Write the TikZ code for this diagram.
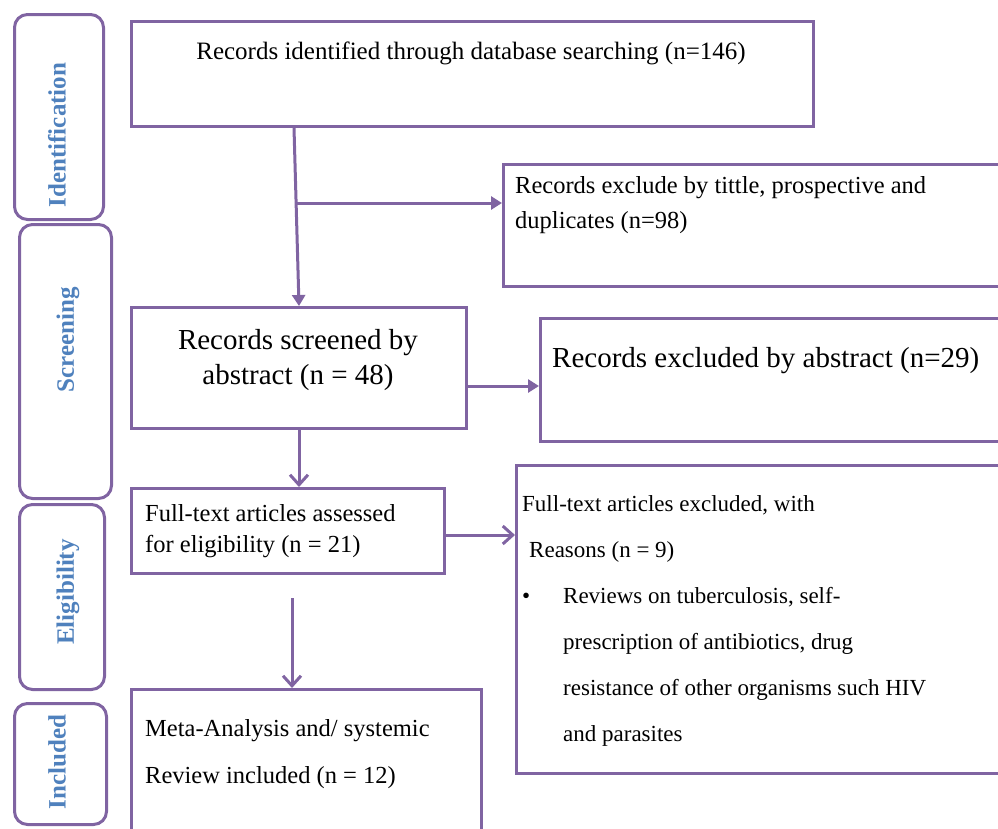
\documentclass[tikz,border=0pt]{standalone}
\usepackage{fontspec}
\setmainfont{Liberation Serif}
\usetikzlibrary{arrows.meta}
\tikzset{>={Triangle[length=11pt,width=13pt]}}
\definecolor{prisma}{HTML}{8064A2}
\definecolor{stageblue}{HTML}{4F81BD}
\tikzset{
  stage/.style={draw=prisma, line width=3pt, rounded corners=13pt, anchor=north west, inner sep=0pt},
  stagename/.style={rotate=90, text=stageblue, inner sep=0pt, font=\fontsize{25}{28}\selectfont\bfseries},
  box/.style={draw=prisma, line width=3pt, anchor=north west, inner sep=0pt},
  flow/.style={->, color=prisma, line width=3pt},
  barb/.style={-{Straight Barb[length=10pt,width=18pt]}, color=prisma, line width=3pt},
  small/.style={font=\fontsize{24.5}{35}\selectfont, inner sep=0pt, align=left},
  big/.style={font=\fontsize{29}{35}\selectfont, inner sep=0pt, align=center},
}

\begin{document}
\begin{tikzpicture}[x=1pt,y=-1pt]
\useasboundingbox (0,0) rectangle (998,828);
\clip (0,0) rectangle (998,828);

% stages
\node[stage, minimum width=89pt, minimum height=205pt] (sident) at (13,13) {};
\node[stage, minimum width=92pt, minimum height=274pt] (sscreen) at (18,223) {};
\node[stage, minimum width=85pt, minimum height=185pt] (selig) at (18,503) {};
\node[stage, minimum width=92pt, minimum height=121pt] (sincl) at (13,702) {};
\node[stagename] (lident) at (57,135) {Identification};
\node[stagename] (lscreen) at (68,340) {Screening};
\node[stagename] (lelig) at (68,592) {Eligibility};
\node[stagename] (lincl) at (57,762) {Included};

% boxes
\node[box, minimum width=682pt, minimum height=105pt] (recs) at (130,20) {};
\node[box, minimum width=508pt, minimum height=122pt] (excla) at (502,163) {};
\node[box, minimum width=335pt, minimum height=121pt] (screened) at (130,306) {};
\node[box, minimum width=471pt, minimum height=123pt] (exclb) at (539,317) {};
\node[box, minimum width=313pt, minimum height=85pt] (fulltext) at (130,487) {};
\node[box, minimum width=495pt, minimum height=308pt] (exclc) at (515,464) {};
\node[box, minimum width=350pt, minimum height=170pt] (incl) at (130,688) {};

% texts
\node[small, font=\fontsize{25}{35}\selectfont] (recstxt) at (471,53) {Records identified through database searching (n=146)};
\node[small, anchor=north west] (exclatxt) at (515,176) {Records exclude by tittle, prospective and\\duplicates (n=98)};
\node[big, anchor=north] (screenedtxt) at (298,329) {Records screened by\\abstract (n = 48)};
\node[big, anchor=west] (exclbtxt) at (552,361) {Records excluded by abstract (n=29)};
\node[small, font=\fontsize{24.5}{31}\selectfont, anchor=north west] (fulltexttxt) at (145,504) {Full-text articles assessed\\for eligibility (n = 21)};
\node[small, font=\fontsize{23}{46}\selectfont, anchor=north west] (exclctxt) at (522,495) {Full-text articles excluded, with\\
  \hspace*{7pt}Reasons (n = 9)\\
  \makebox[41pt][l]{\textbullet}Reviews on tuberculosis, self-\\
  \hspace*{41pt}prescription of antibiotics, drug\\
  \hspace*{41pt}resistance of other organisms such HIV\\
  \hspace*{41pt}and parasites};
\node[small, font=\fontsize{24.5}{47}\selectfont, anchor=north west] (incltxt) at (145,719) {Meta-Analysis and/ systemic\\Review included (n = 12)};

% arrows
\coordinate (split) at (295,203);
\coordinate (gap) at (292,598);
\draw[flow] ([xshift=164pt]recs.south west) -- ([xshift=169pt]screened.north west);
\draw[flow] (split) -- (split -| excla.west);
\draw[flow] ([yshift=-18pt]screened.east) -- ([yshift=-18pt]screened.east -| exclb.west);
\draw[barb] (screened.south) -- (screened.south |- fulltext.north);
\draw[barb] ([yshift=-4pt]fulltext.east) -- ([yshift=-4pt]fulltext.east -| exclc.west);
\draw[barb] (gap) -- (gap |- incl.north);
\end{tikzpicture}
\end{document}
